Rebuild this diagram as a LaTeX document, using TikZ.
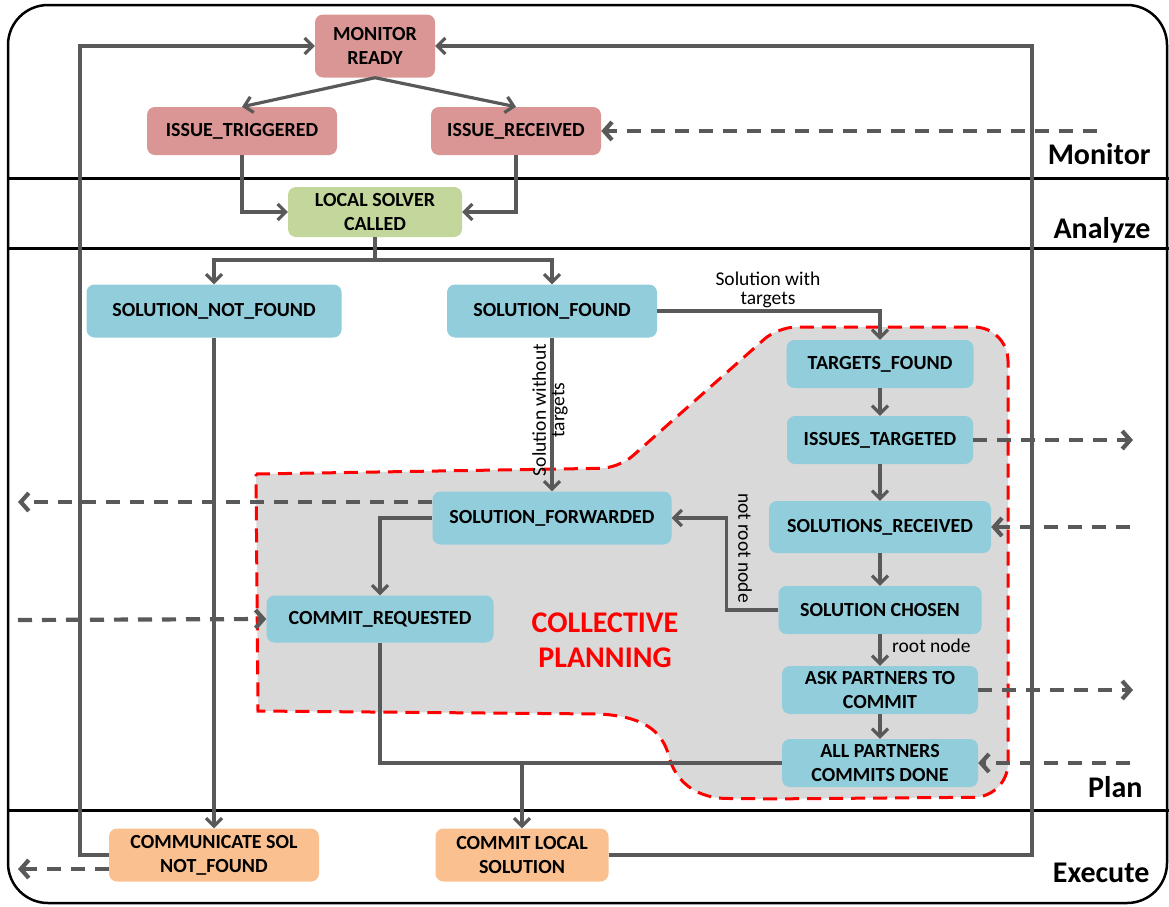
\documentclass[tikz,border=0pt]{standalone}
\usepackage{fontspec}
\setmainfont{Carlito}
\usetikzlibrary{arrows.meta,calc}
\definecolor{monpink}{HTML}{D99694}
\definecolor{anagreen}{HTML}{C3D69B}
\definecolor{planblue}{HTML}{92CDDC}
\definecolor{exeorange}{HTML}{FAC090}
\definecolor{linegray}{HTML}{595959}
\definecolor{zonegray}{HTML}{D9D9D9}
\begin{document}
\begin{tikzpicture}[x=1pt,y=-1pt,
  state/.style={rounded corners=8pt, inner sep=0pt, align=center,
    font=\fontsize{20}{24}\selectfont\bfseries},
  conn/.style={draw=linegray, line width=3.2pt,
    -{Straight Barb[length=8pt,width=16pt]}},
  plain/.style={draw=linegray, line width=3.2pt},
  msg/.style={draw=linegray, line width=4.2pt, dash pattern=on 14pt off 10pt,
    -{Straight Barb[length=8pt,width=18pt]}},
  lane/.style={anchor=east, font=\fontsize{30}{32}\selectfont\bfseries},
  edgelabel/.style={align=center, inner sep=0pt,
    font=\fontsize{19.5}{18.5}\selectfont},
  zone/.style={fill=zonegray, draw=red, line width=3pt,
    dash pattern=on 14pt off 8pt}]
\useasboundingbox (0,0) rectangle (1169,906);

% outer frame and swim lanes
\draw[line width=2.5pt, rounded corners=40pt] (8,5) rectangle (1167,903);
\foreach \yy in {178,248,810}
  \draw[line width=3pt] (8,\yy) -- (1169,\yy);
\node[lane] (lmon) at (1154,154) {Monitor};
\node[lane] (lana) at (1154,230) {Analyze};
\node[lane] (lpla) at (1146,787) {Plan};
\node[lane] (lexe) at (1153,873) {Execute};

% collective planning zone
\path[zone] (256,474) [rounded corners=18pt] -- (619,468) -- (778,327)
  [rounded corners=34pt] -- (1008,327) -- (1008,797) -- (760,799)
  [sharp corners] .. controls (700,798) and (678,785) .. (670,760)
  .. controls (664,735) and (650,717) .. (600,714) -- (258,711) -- cycle;
\node[text=red, align=center, inner sep=0pt,
  font=\fontsize{30}{35}\selectfont\bfseries] (cp) at (605,640)
  {COLLECTIVE\\PLANNING};

% states
\node[state, fill=monpink, minimum width=120, minimum height=63] (mr) at (375,46) {MONITOR\\READY};
\node[state, fill=monpink, minimum width=190, minimum height=48] (itr) at (242,131) {ISSUE\_TRIGGERED};
\node[state, fill=monpink, minimum width=170, minimum height=48] (irc) at (516,131) {ISSUE\_RECEIVED};
\node[state, fill=anagreen, minimum width=174, minimum height=50] (lsc) at (375,212) {LOCAL SOLVER\\CALLED};
\node[state, fill=planblue, minimum width=255, minimum height=53] (snf) at (214,311) {SOLUTION\_NOT\_FOUND};
\node[state, fill=planblue, minimum width=210, minimum height=53] (sf) at (552,311) {SOLUTION\_FOUND};
\node[state, fill=planblue, minimum width=187, minimum height=48] (tf) at (880,364) {TARGETS\_FOUND};
\node[state, fill=planblue, minimum width=186, minimum height=48] (it) at (880,440) {ISSUES\_TARGETED};
\node[state, fill=planblue, minimum width=239, minimum height=53] (sfw) at (552,518) {SOLUTION\_FORWARDED};
\node[state, fill=planblue, minimum width=222, minimum height=52] (sr) at (880,527) {SOLUTIONS\_RECEIVED};
\node[state, fill=planblue, minimum width=203, minimum height=48] (sc) at (880,610) {SOLUTION CHOSEN};
\node[state, fill=planblue, minimum width=227, minimum height=47] (cr) at (380,619) {COMMIT\_REQUESTED};
\node[state, fill=planblue, minimum width=196, minimum height=48] (ap) at (880,690) {ASK PARTNERS TO\\COMMIT};
\node[state, fill=planblue, minimum width=196, minimum height=48] (apd) at (880,763) {ALL PARTNERS\\COMMITS DONE};
\node[state, fill=exeorange, minimum width=210, minimum height=53] (csnf) at (214,855) {COMMUNICATE SOL\\NOT\_FOUND};
\node[state, fill=exeorange, minimum width=173, minimum height=53] (cls) at (522,855) {COMMIT LOCAL\\SOLUTION};

% routing points
\coordinate (lx) at (80,46);
\coordinate (rx) at (1032,46);
\coordinate (split) at (375,260);
\coordinate (merge) at (522,763);

% control flow
\draw[conn] (csnf.west) -| (lx) -- (mr.west);
\draw[conn] (cls.east) -| (rx) -- (mr.east);
\draw[conn] (mr.south) -- (itr.north);
\draw[conn] (mr.south) -- (irc.north);
\draw[conn] (itr.south) |- (lsc.west);
\draw[conn] (irc.south) |- (lsc.east);
\draw[plain] (lsc.south) -- (split);
\draw[conn] (split) -| (snf.north);
\draw[conn] (split) -| (sf.north);
\draw[conn] (sf.east) -| (tf.north);
\node[edgelabel] (lwith) at (768,290) {Solution with\\targets};
\draw[conn] (sf.south) -- (sfw.north);
\node[edgelabel, rotate=90] (lwithout) at (550,410) {Solution without\\targets};
\draw[conn] (snf.south) -- (csnf.north);
\draw[conn] (tf.south) -- (it.north);
\draw[conn] (it.south) -- (sr.north);
\draw[conn] (sr.south) -- (sc.north);
\draw[conn] (sc.south) -- (ap.north);
\node[edgelabel, anchor=west] (lroot) at (892,646) {root node};
\draw[conn] (ap.south) -- (apd.north);
\draw[conn] (sc.west) -- ++(-52,0) |- (sfw.east);
\node[edgelabel, rotate=-90] (lnotroot) at (745,548) {not root node};
\draw[conn] (sfw.west) -| (cr.north);
\draw[plain] (cr.south) |- (merge);
\draw[plain] (apd.west) -- (merge);
\draw[conn] (merge) -- (cls.north);

% messages exchanged with other agents
\coordinate (inIR) at (1097,131);
\coordinate (outSF) at (18,502);
\coordinate (inCR) at (18,620);
\coordinate (outIT) at (1133,440);
\coordinate (inSR) at (1130,527);
\coordinate (outAP) at (1133,690);
\coordinate (inAPD) at (1130,763);
\coordinate (outCS) at (18,869);
\draw[msg] (inIR) -- (irc.east);
\draw[msg] ($(sfw.west)+(0,-16)$) -- (outSF);
\draw[msg] (inCR) -- (cr.west);
\draw[msg] (it.east) -- (outIT);
\draw[msg] (inSR) -- (sr.east);
\draw[msg] (ap.east) -- (outAP);
\draw[msg] (inAPD) -- (apd.east);
\draw[msg] ($(csnf.west)+(0,14)$) -- (outCS);
\end{tikzpicture}
\end{document}
